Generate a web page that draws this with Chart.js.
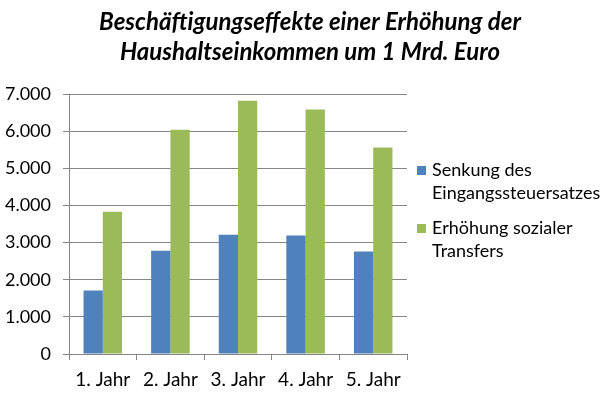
<!DOCTYPE html>
<html><head><meta charset="utf-8">
<script src="https://cdn.jsdelivr.net/npm/chart.js@4/dist/chart.umd.min.js"></script>
<style>html,body{margin:0;padding:0;background:#fff}#wrap{width:615px;height:407px}</style>
</head><body><div id="wrap"><canvas id="c" width="615" height="407"></canvas></div>
<script>
const titleLines = ["Beschäftigungseffekte einer Erhöhung der", "Haushaltseinkommen um 1 Mrd. Euro"];
const categories = ["1. Jahr", "2. Jahr", "3. Jahr", "4. Jahr", "5. Jahr"];
const seriesNames = [["Senkung des", "Eingangssteuersatzes"], ["Erhöhung sozialer", "Transfers"]];
const senkung = [1710, 2780, 3210, 3190, 2760];
const erhoehung = [3830, 6040, 6820, 6580, 5560];
const yTicks = [0, 1000, 2000, 3000, 4000, 5000, 6000, 7000];
const colors = ["#4F81BD", "#9BBB59"];
const FONT = "Lato, 'Open Sans', sans-serif";

function fmt(v){ return String(v).replace(/\B(?=(\d{3})+(?!\d))/g, "."); }

const customDraw = {
  id: 'customDraw',
  afterDraw(chart){
    const ctx = chart.ctx;
    ctx.save();
    ctx.fillStyle = '#000';
    ctx.textAlign = 'center';
    ctx.textBaseline = 'middle';
    ctx.font = "italic bold 24px " + FONT;
    titleLines.forEach((t,i)=> ctx.fillText(t, 310, 22 + i*30));
    // legend
    ctx.font = "18px " + FONT;
    ctx.textAlign = 'left';
    const starts = [170, 228];
    chart.data.datasets.forEach((ds, i) => {
      const y = starts[i];
      ctx.fillStyle = ds.backgroundColor;
      ctx.fillRect(417, y - 4, 9, 9);
      ctx.fillStyle = '#000';
      seriesNames[i].forEach((line, j) => ctx.fillText(line, 432, y + j*23));
    });
    ctx.restore();
  }
};

new Chart(document.getElementById('c'), {
  type: 'bar',
  data: {
    labels: categories,
    datasets: [
      { label: seriesNames[0].join(' '), data: senkung, backgroundColor: colors[0] },
      { label: seriesNames[1].join(' '), data: erhoehung, backgroundColor: colors[1] }
    ]
  },
  options: {
    responsive: false,
    animation: false,
    devicePixelRatio: 1,
    layout: { padding: { top: 94, right: 208, left: 0, bottom: 0 } },
    plugins: { legend: { display: false }, title: { display: false }, tooltip: { enabled: false } },
    datasets: { bar: { categoryPercentage: 0.57, barPercentage: 1.0 } },
    scales: {
      x: {
        offset: true,
        grid: { drawOnChartArea: false, color: '#868686', tickLength: 6, offset: true },
        border: { color: '#868686' },
        ticks: { color: '#000', font: { family: FONT, size: 19 }, padding: 8, maxRotation: 0 },
        afterFit(scale){ scale.height = 53; }
      },
      y: {
        min: 0, max: 7000,
        afterBuildTicks(scale){ scale.ticks = yTicks.map(v => ({ value: v })); },
        grid: { color: '#868686', tickLength: 6 },
        border: { color: '#868686' },
        ticks: { color: '#000', font: { family: FONT, size: 18 }, padding: 12, callback: v => fmt(v) },
        afterFit(scale){ scale.width = 69; }
      }
    }
  },
  plugins: [customDraw]
});
</script></body></html>
